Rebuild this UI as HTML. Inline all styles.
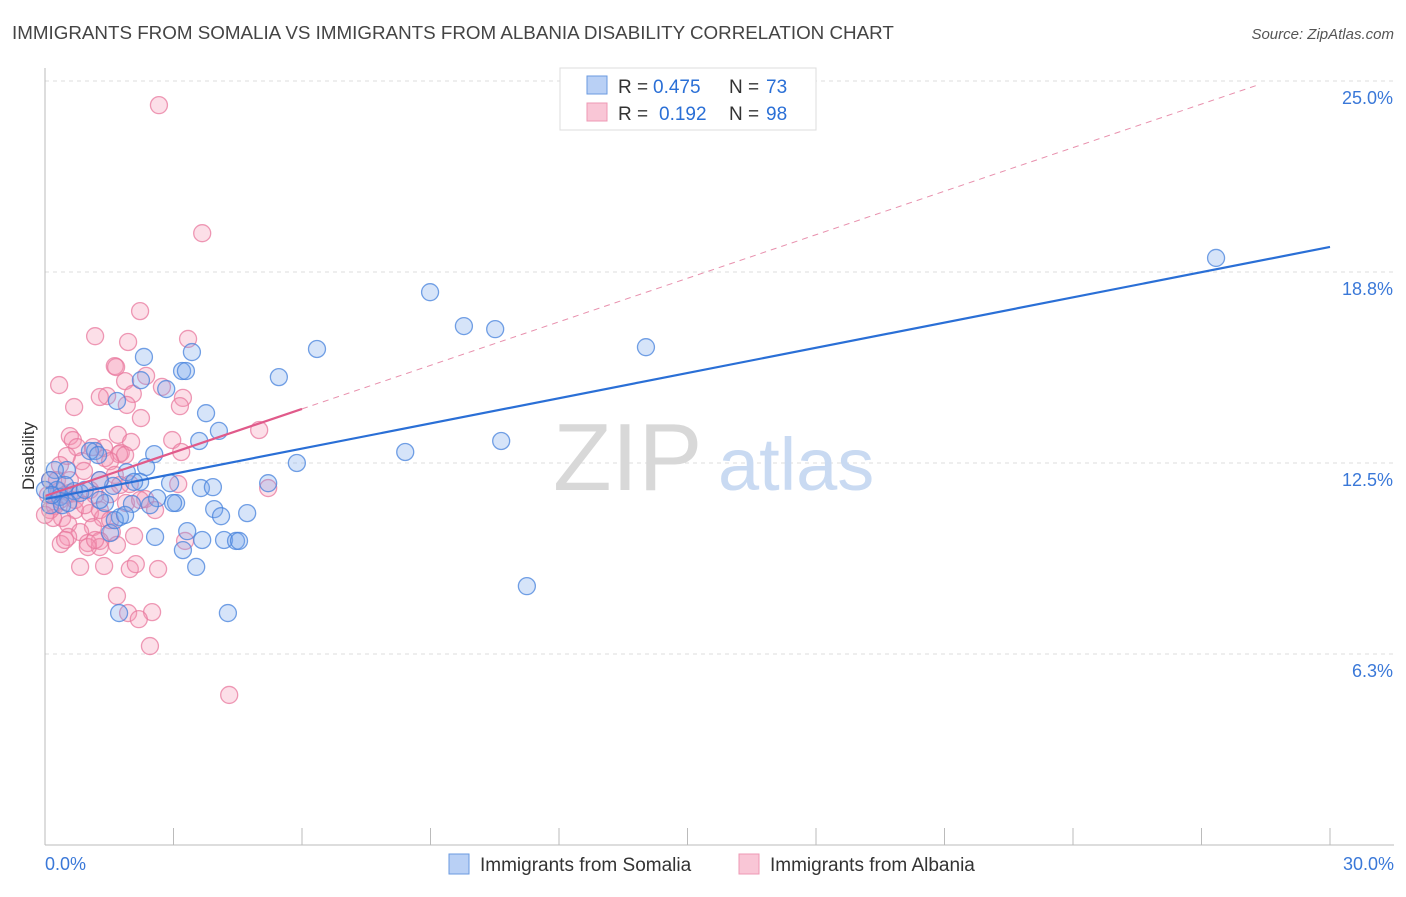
<!DOCTYPE html>
<html><head><meta charset="utf-8"><style>
body{margin:0;background:#fff;font-family:"Liberation Sans",sans-serif}
svg text{font-family:"Liberation Sans",sans-serif}
</style></head><body>
<svg id="chart" width="1406" height="892" xmlns="http://www.w3.org/2000/svg">
<text x="12" y="39" font-size="18.8" fill="#444">IMMIGRANTS FROM SOMALIA VS IMMIGRANTS FROM ALBANIA DISABILITY CORRELATION CHART</text>
<text x="1394" y="39" font-size="15" fill="#555" text-anchor="end" font-style="italic">Source: ZipAtlas.com</text>
<g id="grid"></g>
<text x="553" y="490" font-size="96" fill="#d8d8d8" font-family="Liberation Serif">ZIP</text>
<text x="718" y="490" font-size="74" fill="#c9daf2">atlas</text>
<g id="pts"></g>
<g id="trends"></g>
<g id="axes"></g>
<text transform="translate(34,456) rotate(-90)" font-size="17" fill="#333" text-anchor="middle">Disability</text>
<g>
<rect x="560" y="68" width="256" height="62" fill="#fff" stroke="#ddd"/>
<rect x="587" y="76" width="20" height="18" fill="#b9d0f5" stroke="#6a9ae0"/>
<rect x="587" y="103" width="20" height="18" fill="#f9c6d6" stroke="#ee98b4"/>
<text x="618" y="93" font-size="19" fill="#333">R =</text>
<text x="653" y="93" font-size="19" fill="#2a6fd6">0.475</text>
<text x="729" y="93" font-size="19" fill="#333">N =</text>
<text x="766" y="93" font-size="19" fill="#2a6fd6">73</text>
<text x="618" y="120" font-size="19" fill="#333">R =</text>
<text x="659" y="120" font-size="19" fill="#2a6fd6">0.192</text>
<text x="729" y="120" font-size="19" fill="#333">N =</text>
<text x="766" y="120" font-size="19" fill="#2a6fd6">98</text>
</g>
<g>
<rect x="449" y="854" width="20" height="20" fill="#b9d0f5" stroke="#6a9ae0"/>
<text x="480" y="871" font-size="19" fill="#333">Immigrants from Somalia</text>
<rect x="739" y="854" width="20" height="20" fill="#f9c6d6" stroke="#ee98b4"/>
<text x="770" y="871" font-size="19" fill="#333">Immigrants from Albania</text>
</g>
</svg>
<script>
const yTicks=[25,18.75,12.5,6.25];
const yTickLabels=["25.0%","18.8%","12.5%","6.3%"];
const xTickCount=10;
const xLabels=["0.0%","30.0%"];
const blueX=[27.34,8.99,9.78,10.51,14.03,6.35,3.43,2.31,3.20,3.29,5.46,2.24,2.83,1.68,3.76,4.06,3.60,10.65,8.41,2.55,1.17,1.05,1.24,5.88,2.36,1.91,0.51,5.21,2.92,2.22,2.08,1.59,3.64,3.92,0.68,0.82,2.62,3.06,2.99,2.03,1.40,2.45,3.95,4.72,4.11,1.75,3.32,1.52,2.57,3.67,4.18,4.46,4.53,3.22,3.53,11.25,1.73,4.27,0.23,0.12,0.28,0.35,0.12,0.40,0.54,0.0,0.16,1.28,0.93,0.47,1.63,1.87,1.28];
const blueY=[19.21,18.09,16.98,16.88,16.29,16.23,16.13,15.97,15.51,15.51,15.31,15.21,14.92,14.53,14.13,13.55,13.22,13.22,12.86,12.79,12.89,12.89,12.76,12.50,12.37,12.20,12.27,11.84,11.84,11.88,11.88,11.75,11.68,11.71,11.58,11.52,11.35,11.19,11.19,11.16,11.19,11.12,10.99,10.86,10.76,10.73,10.27,10.21,10.08,9.98,9.98,9.95,9.95,9.65,9.10,8.47,7.59,7.59,12.27,11.94,11.62,11.39,11.12,11.12,11.19,11.62,11.45,11.94,11.62,11.78,10.63,10.80,11.29];
const pinkX=[2.66,3.67,2.22,1.17,3.34,1.94,1.63,1.66,2.36,1.87,0.33,2.73,2.05,1.45,1.28,3.22,3.15,1.91,0.68,2.24,1.70,0.58,0.65,2.97,2.01,0.75,1.12,1.38,1.77,1.73,1.40,0.86,1.52,0.51,5.00,3.18,0.35,0.91,1.63,1.28,1.98,3.11,5.21,0.33,0.58,1.05,1.52,2.34,1.89,0.23,0.70,1.05,0.40,0.19,1.35,0.54,1.12,0.82,1.56,0.54,2.08,3.27,1.28,1.00,0.37,1.68,1.28,1.00,0.82,1.38,1.98,2.12,2.64,1.68,1.94,2.50,2.19,2.45,4.30,0.12,0.07,0.35,0.70,0.93,0.12,0.0,0.47,1.17,0.28,0.58,1.28,1.75,1.87,1.52,1.17,2.22,2.57,0.47];
const pinkY=[24.21,20.02,17.47,16.65,16.56,16.46,15.67,15.64,15.35,15.18,15.05,14.99,14.76,14.69,14.66,14.63,14.36,14.40,14.33,13.97,13.42,13.38,13.25,13.25,13.19,13.02,13.02,12.99,12.83,12.79,12.66,12.56,12.56,12.73,13.58,12.86,12.43,12.24,12.11,11.94,11.81,11.81,11.68,11.58,11.52,11.62,11.48,11.32,11.19,11.09,10.96,10.86,10.70,10.70,10.70,10.50,10.40,10.24,10.24,10.08,10.11,9.95,9.95,9.88,9.85,9.82,9.75,9.75,9.10,9.13,9.03,9.19,9.03,8.15,7.59,7.62,7.39,6.51,4.91,11.94,11.45,11.29,11.29,11.12,10.96,10.80,11.45,11.45,11.94,11.94,10.96,11.78,12.76,10.63,9.98,11.29,10.96,9.98];
const blueTrend=[11.32,19.57];
const pinkTrend=[11.42,14.27];
const pinkSolidEnd=6.0, pinkDashEnd=28.3;
const NS="http://www.w3.org/2000/svg";
const x0=45,x1=1330,yBase=845,yPer=30.56;
const X=v=>x0+(x1-x0)*v/30;
const Y=v=>yBase-v*yPer;
function mk(tag,attrs,parent){const e=document.createElementNS(NS,tag);for(const k in attrs)e.setAttribute(k,attrs[k]);parent.appendChild(e);return e;}
const grid=document.getElementById('grid'),axes=document.getElementById('axes'),pts=document.getElementById('pts'),tr=document.getElementById('trends');
yTicks.forEach((t,i)=>{
  const l=mk('line',{x1:x0,x2:1394,y1:Y(t),y2:Y(t),stroke:'#ddd','stroke-dasharray':'4,4'},grid);
  
  
  const tx=mk('text',{x:1393,y:Y(t)+23,'font-size':18,fill:'#3a78d8','text-anchor':'end'},axes);
  tx.textContent=yTickLabels[i];
  
  
});
const ax=mk('line',{x1:x0,x2:x0,y1:68,y2:yBase,stroke:'#bbb'},axes);


const bx=mk('line',{x1:x0,x2:1394,y1:yBase,y2:yBase,stroke:'#bbb'},axes);


for(let i=0;i<=xTickCount;i++){
  const v=30*i/xTickCount;
  const t=mk('line',{x1:X(v),x2:X(v),y1:828,y2:yBase,stroke:'#bbb'},axes);
  
  
}
const xl0=mk('text',{x:45,y:870,'font-size':18,fill:'#3a78d8'},axes);xl0.textContent=xLabels[0];


const xl1=mk('text',{x:1394,y:870,'font-size':18,fill:'#3a78d8','text-anchor':'end'},axes);xl1.textContent=xLabels[1];


pinkX.forEach((v,i)=>{
  const c=mk('circle',{cx:X(v),cy:Y(pinkY[i]),r:8.5,fill:'rgba(244,150,180,0.3)',stroke:'rgba(232,120,158,0.75)','stroke-width':1.3},pts);
  
  
});
blueX.forEach((v,i)=>{
  const c=mk('circle',{cx:X(v),cy:Y(blueY[i]),r:8.5,fill:'rgba(120,165,235,0.3)',stroke:'rgba(70,130,220,0.75)','stroke-width':1.3},pts);
  
  
});
const ps=(pinkTrend[1]-pinkTrend[0])/pinkSolidEnd;
const pd=mk('line',{x1:X(pinkSolidEnd),y1:Y(pinkTrend[1]),x2:X(pinkDashEnd),y2:Y(pinkTrend[0]+ps*pinkDashEnd),stroke:'#e890ad','stroke-width':1,'stroke-dasharray':'6,5'},tr);


const bl=mk('line',{x1:X(0),y1:Y(blueTrend[0]),x2:X(30),y2:Y(blueTrend[1]),stroke:'#2a6fd6','stroke-width':2.2},tr);


const pl=mk('line',{x1:X(0),y1:Y(pinkTrend[0]),x2:X(pinkSolidEnd),y2:Y(pinkTrend[1]),stroke:'#e05a8a','stroke-width':2.2},tr);


</script>
</body></html>
